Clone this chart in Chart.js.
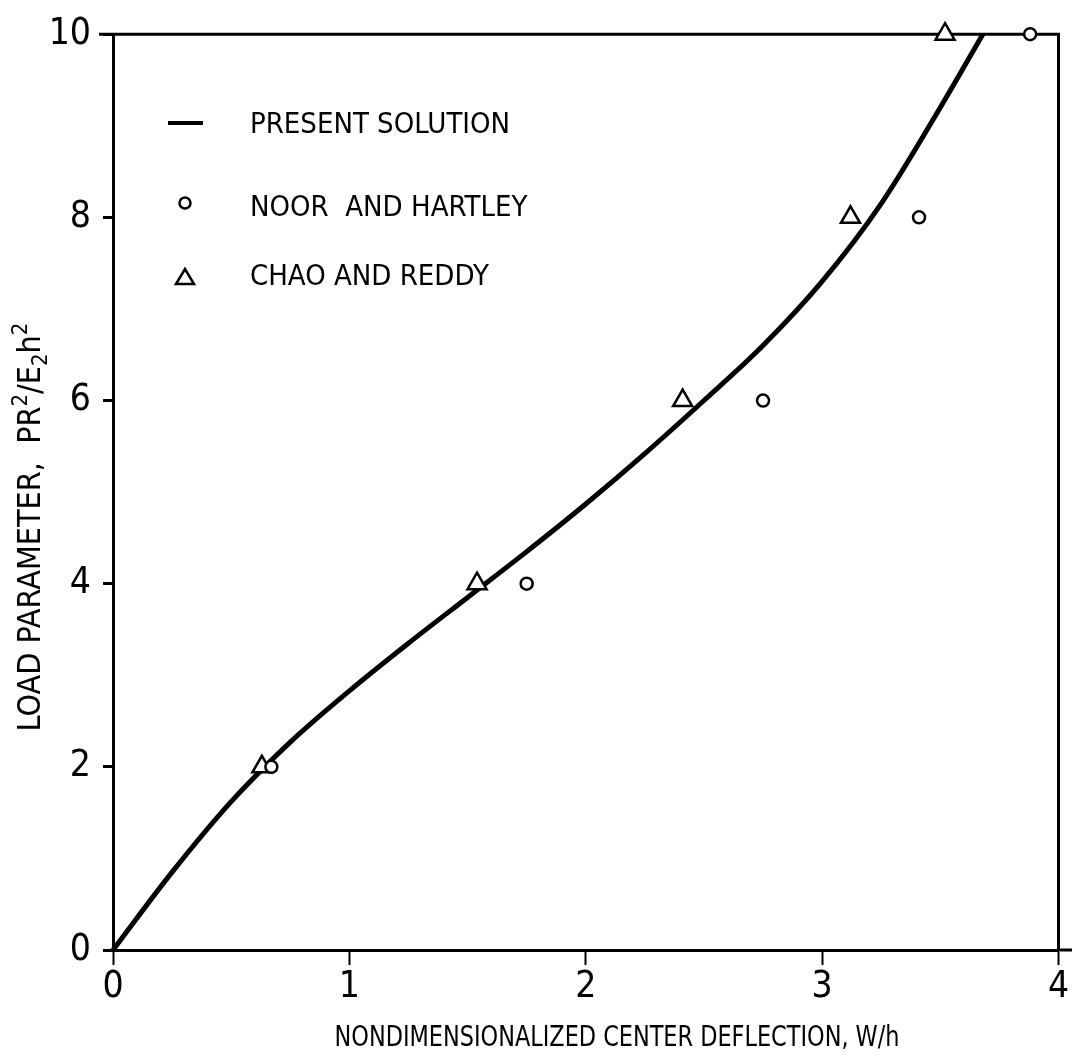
<!DOCTYPE html>
<html><head><meta charset="utf-8">
<script src="https://cdn.jsdelivr.net/npm/chart.js@4"></script>
<style>html,body{margin:0;padding:0;background:#fff}</style>
</head><body>
<canvas id="c" width="1072" height="1062"></canvas>
<script>
// ---- data ----
const curveX = [0, 0.25, 0.5, 0.75, 1.0, 1.25, 1.5, 1.75, 2.0, 2.25, 2.5, 2.75, 3.0, 3.25, 3.5, 3.68];
const curveY = [0, 0.85, 1.62, 2.27, 2.83, 3.35, 3.85, 4.35, 4.87, 5.42, 6.0, 6.6, 7.3, 8.15, 9.2, 10];
const noorX = [0.67, 1.75, 2.75, 3.41, 3.88];
const noorY = [2, 4, 6, 8, 10];
const chaoX = [0.63, 1.54, 2.41, 3.12, 3.52];
const chaoY = [2, 4, 6, 8, 10];
const xTicks = [0, 1, 2, 3, 4];
const yTicks = [0, 2, 4, 6, 8, 10];
const legendLabels = ['PRESENT SOLUTION', 'NOOR  AND HARTLEY', 'CHAO AND REDDY'];
const xTitle = 'NONDIMENSIONALIZED CENTER DEFLECTION, W/h';
const yTitleParts = [['LOAD PARAMETER,  PR', 0], ['2', 1], ['/E', 0], ['2', -1], ['h', 0], ['2', 1]];

const FONT = '"Liberation Sans Narrow", "DejaVu Sans Condensed", sans-serif';
const zip = (xs, ys) => xs.map((x, i) => ({x, y: ys[i]}));

const deco = {
  id: 'deco',
  beforeDatasetsDraw(chart) {
    const {ctx, chartArea: a} = chart;
    ctx.save();
    ctx.strokeStyle = '#000'; ctx.lineWidth = 3;
    ctx.beginPath();
    ctx.moveTo(a.left - 14, a.top); ctx.lineTo(a.right, a.top); ctx.lineTo(a.right, a.bottom);
    ctx.stroke();
    ctx.beginPath(); ctx.moveTo(a.right, a.bottom); ctx.lineTo(1072, a.bottom); ctx.stroke();
    ctx.restore();
  },
  afterDraw(chart) {
    const {ctx} = chart;
    ctx.save();
    ctx.fillStyle = '#000'; ctx.strokeStyle = '#000';
    // legend
    ctx.font = '29px ' + FONT;
    ctx.textBaseline = 'middle'; ctx.textAlign = 'left';
    ctx.lineWidth = 4;
    ctx.beginPath(); ctx.moveTo(168, 123); ctx.lineTo(203, 123); ctx.stroke();
    ctx.fillText(legendLabels[0], 250, 125);
    ctx.lineWidth = 2.5;
    ctx.beginPath(); ctx.arc(185, 203, 5.5, 0, Math.PI * 2); ctx.stroke();
    ctx.fillText(legendLabels[1], 250, 208);
    ctx.beginPath(); ctx.moveTo(176, 284); ctx.lineTo(194, 284); ctx.lineTo(185, 269); ctx.closePath(); ctx.stroke();
    ctx.fillText(legendLabels[2], 250, 277);
    // x title (condensed horizontally)
    ctx.save();
    ctx.font = '29px ' + FONT;
    ctx.textAlign = 'center';
    ctx.translate(617, 1038);
    const w = ctx.measureText(xTitle).width;
    ctx.scale(565 / w, 1);
    ctx.fillText(xTitle, 0, 0);
    ctx.restore();
    // y title
    ctx.translate(32, 527); ctx.rotate(-Math.PI / 2);
    ctx.textAlign = 'left';
    const big = '32px ' + FONT, small = '22px ' + FONT;
    let total = 0;
    yTitleParts.forEach(([t, s]) => { ctx.font = s ? small : big; total += ctx.measureText(t).width; });
    let x = -total / 2;
    yTitleParts.forEach(([t, s]) => {
      ctx.font = s ? small : big;
      ctx.fillText(t, x, s === 1 ? -11 : (s === -1 ? 9 : 0));
      x += ctx.measureText(t).width;
    });
    ctx.restore();
  }
};

new Chart(document.getElementById('c'), {
  type: 'scatter',
  data: {
    datasets: [
      { label: legendLabels[0], type: 'line', data: zip(curveX, curveY), borderColor: '#000', borderWidth: 5,
        pointRadius: 0, cubicInterpolationMode: 'monotone', fill: false, order: 3 },
      { label: legendLabels[1], data: zip(noorX, noorY), pointStyle: 'circle', pointRadius: 6,
        borderColor: '#000', backgroundColor: '#fff', pointBorderWidth: 2.5, order: 1 },
      { label: legendLabels[2], data: zip(chaoX, chaoY), pointStyle: 'triangle', pointRadius: 11,
        borderColor: '#000', backgroundColor: '#fff', pointBorderWidth: 2.5, order: 2 }
    ]
  },
  options: {
    responsive: false, animation: false, clip: false,
    layout: { padding: { left: 0, top: 27, right: 12, bottom: 0 } },
    plugins: { legend: { display: false }, tooltip: { enabled: false } },
    scales: {
      x: {
        type: 'linear', min: 0, max: 4,
        afterBuildTicks: s => { s.ticks = xTicks.map(v => ({value: v})); },
        afterFit: s => { s.height = 112; },
        border: { color: '#000', width: 3 },
        grid: { drawOnChartArea: false, drawTicks: true, tickLength: 15, tickWidth: 2, tickColor: '#000' },
        ticks: { color: '#000', font: { family: FONT, size: 37 }, padding: 0 }
      },
      y: {
        type: 'linear', min: 0, max: 10,
        afterBuildTicks: s => { s.ticks = yTicks.map(v => ({value: v})); },
        afterFit: s => { s.width = 113; },
        border: { color: '#000', width: 3 },
        grid: { drawOnChartArea: false, drawTicks: true, tickLength: 10, tickWidth: 3, tickColor: '#000' },
        ticks: { color: '#000', font: { family: FONT, size: 37 }, padding: 12 }
      }
    }
  },
  plugins: [deco]
});
</script>
</body></html>
